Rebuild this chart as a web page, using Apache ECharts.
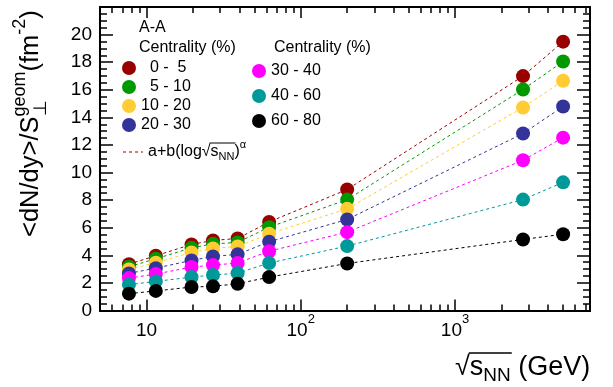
<!DOCTYPE html>
<html>
<head>
<meta charset="utf-8">
<script src="https://cdn.jsdelivr.net/npm/echarts@6/dist/echarts.min.js"></script>
<style>
  html, body { margin: 0; padding: 0; background: #fff; }
  #chart { width: 613px; height: 387px; }
</style>
</head>
<body>
<div id="chart"></div>
<script>
// Collision energies (GeV)
const energies = [7.7, 11.5, 19.6, 27, 39, 62.4, 200, 2760, 5020];

// Centrality classes
const centralityNames = ['  0 -  5', '  5 - 10', '10 - 20', '20 - 30', '30 - 40', '40 - 60', '60 - 80'];
const centralityColors = ['#990000', '#009900', '#ffcc33', '#333399', '#ff00ff', '#009999', '#000000'];

// <dN/dy>/S_perp^geom (fm^-2) for each centrality class
const cent0to5   = [3.36, 3.97, 4.79, 5.08, 5.22, 6.42, 8.77, 16.99, 19.49];
const cent5to10  = [3.17, 3.75, 4.54, 4.83, 4.93, 6.04, 8.04, 16.02, 18.05];
const cent10to20 = [2.98, 3.46, 4.21, 4.50, 4.64, 5.56, 7.37, 14.72, 16.65];
const cent20to30 = [2.69, 3.07, 3.63, 3.92, 4.07, 4.98, 6.60, 12.83, 14.79];
const cent30to40 = [2.35, 2.64, 3.15, 3.29, 3.44, 4.30, 5.68, 10.89, 12.53];
const cent40to60 = [1.87, 2.11, 2.42, 2.57, 2.71, 3.44, 4.67, 8.04, 9.29];
const cent60to80 = [1.22, 1.42, 1.70, 1.75, 1.94, 2.42, 3.41, 5.15, 5.53];
const centralityValues = [cent0to5, cent5to10, cent10to20, cent20to30, cent30to40, cent40to60, cent60to80];

// Axis ranges and ticks
const xRange = [5, 7500];
const xMajorTicks = [10, 100, 1000];
const xMinorTicks = [6, 7, 8, 9, 20, 30, 40, 50, 60, 70, 80, 90,
                     200, 300, 400, 500, 600, 700, 800, 900, 2000, 3000, 4000, 5000, 6000, 7000];
const yRange = [0, 22];
const yStep = 2;

const FONT = '"Liberation Sans", Arial, Helvetica, sans-serif';
const measureCtx = document.createElement('canvas').getContext('2d');
function textWidth(str, size) {
  measureCtx.font = size + 'px ' + FONT;
  return measureCtx.measureText(str).width;
}
function piece(text, x, y, size, extra) {
  return Object.assign({
    type: 'text', x: x, y: y, silent: true,
    style: { text: text, fontSize: size, fontFamily: FONT, fill: '#000', align: 'left', verticalAlign: 'middle' }
  }, extra || {});
}

const chart = echarts.init(document.getElementById('chart'), null, { renderer: 'canvas' });

const xLabelFormatter = function (v) {
  if (Math.abs(v - 10) < 1e-6) return '{b|10}';
  if (Math.abs(v - 100) < 1e-6) return '{b|10}{s|2}';
  if (Math.abs(v - 1000) < 1e-6) return '{b|10}{s|3}';
  return '';
};
const axisLineStyle = { color: '#000', width: 2 };

function logAxis(position, ticks, len, withLabels) {
  return {
    type: 'log', logBase: 10, min: xRange[0], max: xRange[1], position: position,
    axisLine: { show: withLabels !== null, onZero: false, lineStyle: axisLineStyle },
    axisTick: { show: true, inside: true, length: len, customValues: ticks, lineStyle: { color: '#000', width: 1.5 } },
    axisLabel: withLabels ? {
      show: true, customValues: xMajorTicks, formatter: xLabelFormatter, margin: 2, color: '#000',
      rich: {
        b: { fontSize: 19, fontFamily: FONT, color: '#000', lineHeight: 28, verticalAlign: 'bottom' },
        s: { fontSize: 13, fontFamily: FONT, color: '#000', lineHeight: 14, verticalAlign: 'top' }
      }
    } : { show: false },
    splitLine: { show: false }, minorTick: { show: false }, minorSplitLine: { show: false }
  };
}

function valueAxis(position, withLabels) {
  return {
    type: 'value', min: yRange[0], max: yRange[1], interval: yStep, position: position,
    axisLine: { show: true, onZero: false, lineStyle: axisLineStyle },
    axisTick: { show: true, inside: true, length: 13, lineStyle: { color: '#000', width: 1.5 } },
    minorTick: { show: true, splitNumber: 4, length: 7, lineStyle: { color: '#000', width: 1.5 } },
    axisLabel: withLabels ? {
      show: true, margin: 8, color: '#000', fontSize: 19, fontFamily: FONT,
      showMaxLabel: false,
      formatter: function (v) { return v >= yRange[1] ? '' : String(v); }
    } : { show: false },
    splitLine: { show: false }, minorSplitLine: { show: false }
  };
}

const series = [];
// dashed fit curves underneath the markers
centralityValues.forEach(function (vals, i) {
  series.push({
    name: 'fit ' + centralityNames[i], type: 'line', xAxisIndex: 0, yAxisIndex: 0,
    data: energies.map(function (e, k) { return [e, vals[k]]; }),
    showSymbol: false, symbol: 'none', z: 2, silent: true,
    lineStyle: { color: centralityColors[i], width: 1, type: [3, 3] }
  });
});
// measured points
centralityValues.forEach(function (vals, i) {
  series.push({
    name: centralityNames[i], type: 'scatter', xAxisIndex: 0, yAxisIndex: 0,
    data: energies.map(function (e, k) { return [e, vals[k]]; }),
    symbol: 'circle', symbolSize: 14, z: 3,
    itemStyle: { color: centralityColors[i], opacity: 1 }
  });
});

// ---- composed titles (super/subscripts) ----
const graphics = [];

// y-axis title: <dN/dy>/S_perp^geom (fm^-2), rotated to read upwards
(function () {
  const F = 25.5, S = 18;
  const kids = [];
  let x = 0;
  const main = '<dN/dy>/S';
  kids.push(piece(main, x, 0, F));
  x += textWidth(main, F);
  kids.push(piece('geom', x, -11, S));
  kids.push(piece('\u22A5', x + 1, 10, S));
  x += Math.max(textWidth('geom', S), textWidth('\u22A5', S));
  kids.push(piece('(fm', x, 0, F));
  x += textWidth('(fm', F);
  kids.push(piece('-2', x, -11, S));
  x += textWidth('-2', S);
  kids.push(piece(')', x, 0, F));
  graphics.push({ type: 'group', x: 31, y: 237, rotation: Math.PI / 2, children: kids });
})();

// x-axis title: sqrt(s_NN) (GeV)
(function () {
  const F = 27, S = 19;
  const x0 = 455, y0 = 368;
  const kids = [];
  let x = x0;
  kids.push(piece('\u221A', x, y0, F));
  x += textWidth('\u221A', F);
  const barStart = x - 1;
  kids.push(piece('s', x, y0, F));
  x += textWidth('s', F);
  kids.push(piece('NN', x, y0 + 8, S));
  x += textWidth('NN', S);
  kids.push({ type: 'line', silent: true, shape: { x1: barStart, y1: y0 - 15, x2: x + 1, y2: y0 - 15 }, style: { stroke: '#000', lineWidth: 1.5 } });
  kids.push(piece(' (GeV)', x, y0, F));
  graphics.push({ type: 'group', children: kids });
})();

// header texts of the legend
graphics.push(piece('A-A', 139, 28, 16));
graphics.push(piece('Centrality (%)', 139, 48, 16));
graphics.push(piece('Centrality (%)', 274, 48, 16));

// legend entry of the fit function: a+b(log sqrt(s_NN))^alpha
(function () {
  const F = 16, S = 11;
  const y0 = 152;
  const kids = [];
  kids.push({ type: 'line', silent: true, shape: { x1: 123, y1: y0, x2: 143, y2: y0 },
    style: { stroke: centralityColors[0], lineWidth: 1, lineDash: [3, 3] } });
  let x = 148;
  kids.push(piece('a+b(log', x, y0, F));
  x += textWidth('a+b(log', F);
  kids.push(piece('\u221A', x, y0, F));
  x += textWidth('\u221A', F);
  const barStart = x - 1;
  kids.push(piece('s', x, y0, F));
  x += textWidth('s', F);
  kids.push(piece('NN', x, y0 + 5, S));
  x += textWidth('NN', S);
  kids.push({ type: 'line', silent: true, shape: { x1: barStart, y1: y0 - 9, x2: x + 1, y2: y0 - 9 }, style: { stroke: '#000', lineWidth: 1 } });
  kids.push(piece(')', x, y0, F));
  x += textWidth(')', F);
  kids.push(piece('\u03B1', x, y0 - 7, S));
  graphics.push({ type: 'group', children: kids });
})();

const legendText = { color: '#000', fontSize: 16, fontFamily: FONT };

chart.setOption({
  animation: false,
  backgroundColor: '#fff',
  textStyle: { fontFamily: FONT },
  grid: { left: 100, right: 23, top: 7, bottom: 76.5, containLabel: false, outerBoundsMode: 'none' },
  xAxis: [
    logAxis('bottom', xMajorTicks, 11, true),
    logAxis('bottom', xMinorTicks, 6, false),
    logAxis('top', xMajorTicks, 11, false),
    logAxis('top', xMinorTicks, 6, false)
  ],
  yAxis: [valueAxis('left', true), valueAxis('right', false)],
  legend: [
    {
      data: centralityNames.slice(0, 4), orient: 'vertical', left: 122, top: 60,
      itemWidth: 14, itemHeight: 14, itemGap: 3, itemTextGap: 6, icon: 'circle',
      selectedMode: false, textStyle: legendText, padding: 0
    },
    {
      data: centralityNames.slice(4), orient: 'vertical', left: 252, top: 63,
      itemWidth: 14, itemHeight: 14, itemGap: 9, itemTextGap: 6, icon: 'circle',
      selectedMode: false, textStyle: legendText, padding: 0
    }
  ],
  graphic: graphics,
  series: series
});
</script>
</body>
</html>
